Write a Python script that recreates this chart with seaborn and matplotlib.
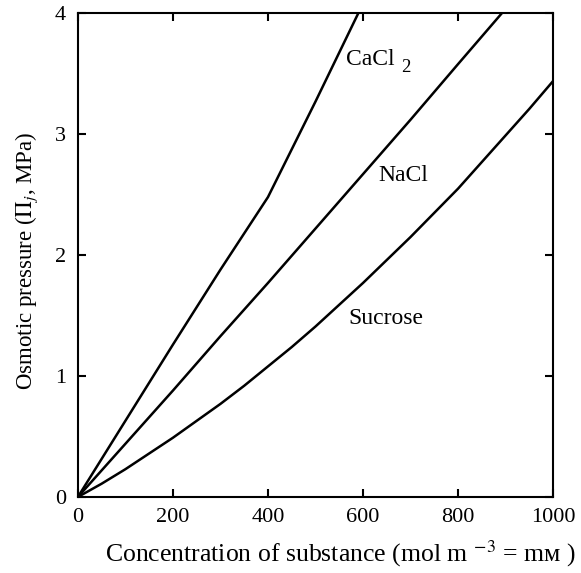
import matplotlib
matplotlib.use("Agg")
import matplotlib.pyplot as plt
import pandas as pd
import seaborn as sns

# Osmotic pressure of aqueous solutions vs. concentration
cacl2_conc = [0, 100, 200, 300, 400, 500, 590]
cacl2_pi = [0.0, 0.63, 1.26, 1.88, 2.48, 3.27, 4.0]

nacl_conc = [0, 100, 200, 300, 400, 500, 600, 700, 800, 892]
nacl_pi = [0.0, 0.44, 0.88, 1.33, 1.77, 2.22, 2.67, 3.12, 3.58, 4.0]

sucrose_conc = [0, 50, 100, 150, 200, 250, 300, 350, 400, 450, 500,
                550, 600, 650, 700, 750, 800, 850, 900, 950, 1000]
sucrose_pi = [0.0, 0.11, 0.23, 0.36, 0.49, 0.63, 0.77, 0.92, 1.08, 1.24, 1.41,
              1.59, 1.77, 1.96, 2.15, 2.35, 2.55, 2.77, 2.99, 3.21, 3.44]

x_ticks = [0, 200, 400, 600, 800, 1000]
y_ticks = [0, 1, 2, 3, 4]

frames = []
for name, c, p in [("CaCl2", cacl2_conc, cacl2_pi),
                   ("NaCl", nacl_conc, nacl_pi),
                   ("Sucrose", sucrose_conc, sucrose_pi)]:
    frames.append(pd.DataFrame({"conc": c, "pi": p, "solute": name}))
df = pd.concat(frames, ignore_index=True)

sns.set_style("ticks")
plt.rcParams["font.family"] = ["Liberation Serif", "DejaVu Serif"]
plt.rcParams["mathtext.fontset"] = "stix"
plt.rcParams["text.color"] = "black"
plt.rcParams["axes.labelcolor"] = "black"
plt.rcParams["xtick.color"] = "black"
plt.rcParams["ytick.color"] = "black"

fig = plt.figure(figsize=(5.81, 5.73), dpi=100)
ax = fig.add_axes([0.134, 0.1326, 0.818, 0.8442])

sns.lineplot(data=df, x="conc", y="pi", units="solute", estimator=None,
             color="black", linewidth=1.8, ax=ax, legend=False, sort=False)

ax.set_xlim(0, 1000)
ax.set_ylim(0, 4)
ax.set_xticks(x_ticks)
ax.set_yticks(y_ticks)
ax.set_xticklabels([str(v) for v in x_ticks])
ax.set_yticklabels([str(v) for v in y_ticks])

ax.tick_params(axis="both", which="major", direction="in", length=5.5,
               width=1.5, labelsize=16, top=True, right=True)
ax.tick_params(axis="x", pad=8)
ax.tick_params(axis="y", pad=8.5)
for sp in ax.spines.values():
    sp.set_linewidth(1.5)
    sp.set_color("black")
    sp.set_visible(True)

ax.set_xlabel("Concentration of substance (mol m $^{-3}$ = m\u1d0d )", fontsize=18.5)
ax.set_ylabel(r"Osmotic pressure ($\Pi_{j}$, MPa)", fontsize=16.5)
ax.xaxis.set_label_coords(0.553, -0.085)
ax.yaxis.set_label_coords(-0.08, 0.488)

ax.text(565, 3.62, "CaCl", fontsize=17, va="center", ha="left")
ax.text(680, 3.55, "2", fontsize=13.5, va="center", ha="left")
ax.text(632, 2.66, "NaCl", fontsize=17, va="center", ha="left")
ax.text(570, 1.48, "Sucrose", fontsize=17, va="center", ha="left")

fig.savefig("out.png", dpi=100)
